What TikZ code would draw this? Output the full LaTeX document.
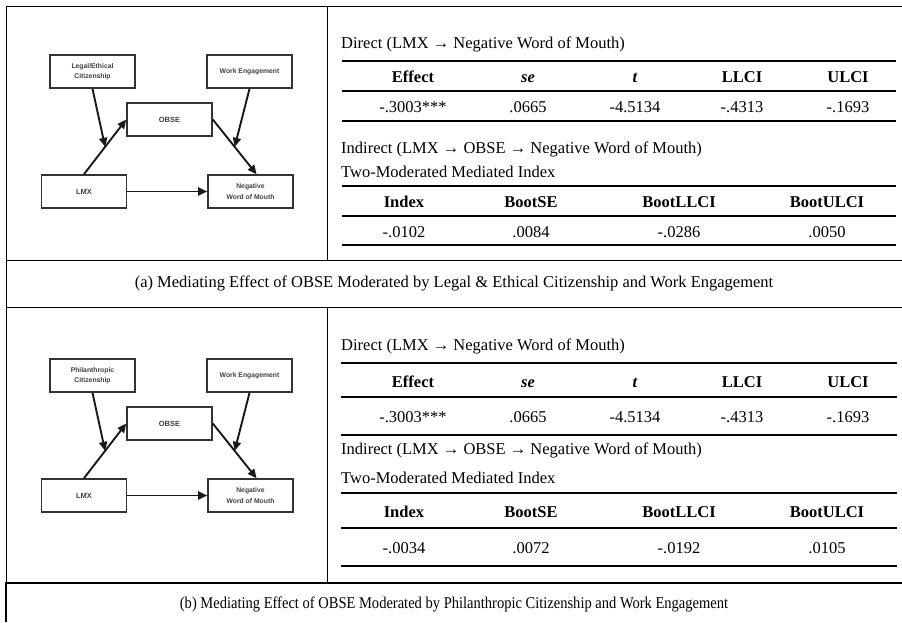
\documentclass[tikz,border=0pt]{standalone}
\usepackage{fontspec}
\setmainfont{Liberation Serif}
\newfontfamily\diagfont{Liberation Sans}
\usetikzlibrary{arrows.meta,calc}
\tikzset{
  gridline/.style={line width=0.9pt, black},
  gridthick/.style={line width=2pt, black},
  tabrule/.style={line width=2.1pt, black},
  dbox/.style={draw=black!80, line width=1.6pt, fill=white, inner sep=0pt, align=center,
    minimum width=85pt, minimum height=33pt,
    font=\diagfont\bfseries\fontsize{6.8}{10}\selectfont, text=black!75},
  darr/.style={line width=1.9pt, black!90, -{Triangle[length=9pt,width=8pt]}},
  txt/.style={font=\fontsize{16.5}{20}\selectfont, inner sep=0pt, anchor=base},
  ttl/.style={font=\fontsize{16.5}{20}\selectfont, inner sep=0pt, anchor=base west},
  hd/.style={font=\bfseries\fontsize{16.5}{20}\selectfont, inner sep=0pt, anchor=base},
  hdi/.style={font=\bfseries\itshape\fontsize{16.5}{20}\selectfont, inner sep=0pt, anchor=base},
}
\begin{document}
\begin{tikzpicture}[x=1pt,y=-1pt]
\useasboundingbox (0,0) rectangle (902,622);
\fill[white] (0,0) rectangle (902,622);

% ---------- grid ----------
\draw[gridline] (6,6) -- (902,6);
\draw[gridline] (6,6) -- (6,583);
\draw[gridline] (327,6) -- (327,260);
\draw[gridline] (6,260) -- (902,260);
\draw[gridline] (6,307) -- (902,307);
\draw[gridline] (327,307) -- (327,583);
\draw[gridthick] (5,583) -- (902,583);
\draw[gridthick] (6,583) -- (6,622);

% ---------- diagrams ----------
\foreach \dy/\lab/\tag in {0/{Legal/Ethical\\Citizenship}/a, 304/{Philanthropic\\Citizenship}/b} {
  \node[dbox] (mod1\tag) at (92.5,71.5+\dy) {\lab};
  \node[dbox] (mod2\tag) at (249.5,71.5+\dy) {Work Engagement};
  \node[dbox, font=\diagfont\bfseries\fontsize{7.5}{10}\selectfont] (obse\tag) at (169.5,119.5+\dy) {OBSE};
  \node[dbox, font=\diagfont\bfseries\fontsize{7.5}{10}\selectfont] (lmx\tag) at (84,191.5+\dy) {LMX};
  \node[dbox] (nwom\tag) at (250.5,191.5+\dy) {Negative\\[1pt]Word of Mouth};
  \coordinate (m1\tag) at ($(lmx\tag.north)!0.5!(obse\tag.west)$);
  \coordinate (nt\tag) at ($(nwom\tag.north west)!0.57!(nwom\tag.north east)$);
  \coordinate (m2\tag) at ($(obse\tag.east)!0.5!(nt\tag)$);
  \draw[darr] (lmx\tag.north) -- (obse\tag.west);
  \draw[darr] (obse\tag.east) -- (nt\tag);
  \draw[darr] (lmx\tag.east) -- (nwom\tag.west);
  \draw[darr] (mod1\tag.south) -- (m1\tag);
  \draw[darr] (mod2\tag.south) -- (m2\tag);
}

% ---------- tables ----------
% panel a
\node[ttl] (dta) at (341,48) {Direct (LMX → Negative Word of Mouth)};
\draw[tabrule] (342,61) -- (896,61);
\node[hd] (h1a) at (413,82) {Effect};
\node[hdi] (h2a) at (528,82) {se};
\node[hdi] (h3a) at (635,82) {t};
\node[hd] (h4a) at (742,82) {LLCI};
\node[hd] (h5a) at (848,82) {ULCI};
\draw[tabrule] (342,91) -- (896,91);
\node[txt] (d1a) at (413,112) {-.3003***};
\node[txt] (d2a) at (528,112) {.0665};
\node[txt] (d3a) at (635,112) {-4.5134};
\node[txt] (d4a) at (742,112) {-.4313};
\node[txt] (d5a) at (848,112) {-.1693};
\draw[tabrule] (342,121) -- (896,121);
\node[ttl] (ita) at (341,153) {Indirect (LMX → OBSE → Negative Word of Mouth)};
\node[ttl] (twa) at (341,177) {Two-Moderated Mediated Index};
\draw[tabrule] (342,186) -- (896,186);
\node[hd] (g1a) at (404,207) {Index};
\node[hd] (g2a) at (531,207) {BootSE};
\node[hd] (g3a) at (679,207) {BootLLCI};
\node[hd] (g4a) at (827,207) {BootULCI};
\draw[tabrule] (342,216) -- (896,216);
\node[txt] (e1a) at (404,237) {-.0102};
\node[txt] (e2a) at (531,237) {.0084};
\node[txt] (e3a) at (679,237) {-.0286};
\node[txt] (e4a) at (827,237) {.0050};
\draw[tabrule] (342,245) -- (896,245);

% panel b
\node[ttl] (dtb) at (341,350) {Direct (LMX → Negative Word of Mouth)};
\draw[tabrule] (341,363) -- (897,363);
\node[hd] (h1b) at (413,387) {Effect};
\node[hdi] (h2b) at (528,387) {se};
\node[hdi] (h3b) at (635,387) {t};
\node[hd] (h4b) at (742,387) {LLCI};
\node[hd] (h5b) at (848,387) {ULCI};
\draw[tabrule] (341,397) -- (897,397);
\node[txt] (d1b) at (413,422) {-.3003***};
\node[txt] (d2b) at (528,422) {.0665};
\node[txt] (d3b) at (635,422) {-4.5134};
\node[txt] (d4b) at (742,422) {-.4313};
\node[txt] (d5b) at (848,422) {-.1693};
\draw[tabrule] (341,435) -- (897,435);
\node[ttl] (itb) at (341,454) {Indirect (LMX → OBSE → Negative Word of Mouth)};
\node[ttl] (twb) at (341,483) {Two-Moderated Mediated Index};
\draw[tabrule] (341,493) -- (897,493);
\node[hd] (g1b) at (404,517) {Index};
\node[hd] (g2b) at (531,517) {BootSE};
\node[hd] (g3b) at (679,517) {BootLLCI};
\node[hd] (g4b) at (827,517) {BootULCI};
\draw[tabrule] (341,528) -- (897,528);
\node[txt] (e1b) at (404,553) {-.0034};
\node[txt] (e2b) at (531,553) {.0072};
\node[txt] (e3b) at (679,553) {-.0192};
\node[txt] (e4b) at (827,553) {.0105};
\draw[tabrule] (341,566) -- (897,566);

% ---------- captions ----------
\node[txt] (capa) at (454,287) {(a) Mediating Effect of OBSE Moderated by Legal \& Ethical Citizenship and Work Engagement};
\node[txt] (capb) at (454,608) {\scalebox{0.88}[1]{(b) Mediating Effect of OBSE Moderated by Philanthropic Citizenship and Work Engagement}};
\end{tikzpicture}
\end{document}
